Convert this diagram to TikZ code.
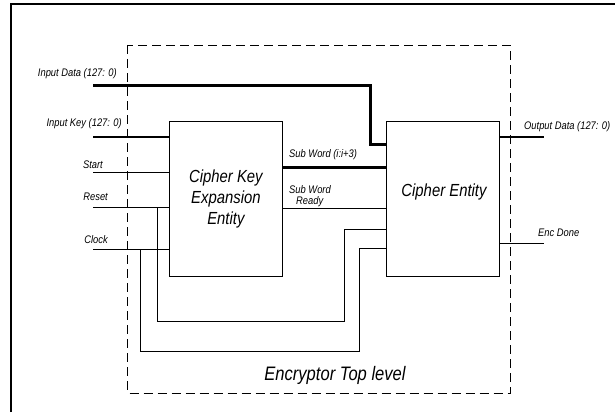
\documentclass[tikz,border=0pt]{standalone}
\usepackage{fontspec}
\setmainfont{Liberation Sans}[FakeStretch=0.85]
\usetikzlibrary{calc}
\begin{document}
\begin{tikzpicture}[x=1pt,y=-1pt,
  wire/.style={line width=0.9pt,black},
  bus/.style={line width=2.6pt,black},
  entity/.style={draw,line width=0.9pt,minimum width=113pt,minimum height=155pt,
    inner sep=0pt,align=center,font=\fontsize{17.5}{21}\selectfont\itshape},
  sig/.style={font=\fontsize{11}{13}\selectfont\itshape,inner sep=0pt},
  frame/.style={line width=1.6pt,black},
  boundary/.style={line width=0.9pt,dash pattern=on 9pt off 5pt}]
\useasboundingbox (0,0) rectangle (615,412);
% page frame (top and left edges)
\draw[frame] (11,412) -- (11,4) -- (615,4);
% top-level boundary
\draw[boundary] (127.5,45) rectangle (510,393);
\node[font=\fontsize{19.5}{22}\selectfont\itshape] (title) at (335,375) {Encryptor Top level};
% entities
\node[entity] (cke) at (225.9,198.5) {Cipher Key\\Expansion\\Entity};
\node[entity] (ce) at (442.5,198.5) {};
\node[font=\fontsize{17.5}{21}\selectfont\itshape] (cetxt) at (444,192) {Cipher Entity};
% free ends of external signals
\coordinate (dIn) at (93,85.3);
\coordinate (kIn) at (93,137);
\coordinate (sIn) at (93,172);
\coordinate (rIn) at (93,207);
\coordinate (cIn) at (93,249.3);
\coordinate (dOut) at (544,137);
\coordinate (eOut) at (544,243.7);
% bends
\coordinate (dBend) at (370.6,144.7);
\coordinate (rTap) at (157,207);
\coordinate (cTap) at (140.4,249.3);
\coordinate (rLoop) at (344,321);
\coordinate (rEnd) at (344,229);
\coordinate (cLoop) at (359,351);
\coordinate (cEnd) at (359,248);
% labels
\node[sig,anchor=east] (lData) at (117,73.3) {Input Data (127: 0)};
\node[sig,anchor=east] (lKey) at (122,123.3) {Input Key (127: 0)};
\node[sig,anchor=east] (lStart) at (103,165) {Start};
\node[sig,anchor=east] (lReset) at (108,196.7) {Reset};
\node[sig,anchor=east] (lClock) at (108,239.3) {Clock};
\node[sig,anchor=west] (lSub) at (289,155) {Sub Word (i:i+3)};
\node[sig,anchor=west] (lRdy1) at (289,189.3) {Sub Word};
\node[sig,anchor=west] (lRdy2) at (296,201.5) {Ready};
\node[sig,anchor=west] (lOut) at (524,126.7) {Output Data (127: 0)};
\node[sig,anchor=west] (lDone) at (538,232.7) {Enc Done};
% buses
\draw[bus] (dIn) -| (dBend) -- (ce.west |- dBend);
\draw[bus] (kIn) -- (cke.west |- kIn);
\draw[bus] (cke.east |- 0,167.3) -- (ce.west |- 0,167.3);
\draw[bus] (ce.east |- dOut) -- (dOut);
% control wires
\draw[wire] (sIn) -- (cke.west |- sIn);
\draw[wire] (rIn) -- (cke.west |- rIn);
\draw[wire] (cIn) -- (cke.west |- cIn);
\draw[wire] (cke.east |- 0,208.7) -- (ce.west |- 0,208.7);
\draw[wire] (rTap) |- (rLoop) -- (rEnd) -- (ce.west |- rEnd);
\draw[wire] (cTap) |- (cLoop) -- (cEnd) -- (ce.west |- cEnd);
\draw[wire] (ce.east |- eOut) -- (eOut);
\end{tikzpicture}
\end{document}
